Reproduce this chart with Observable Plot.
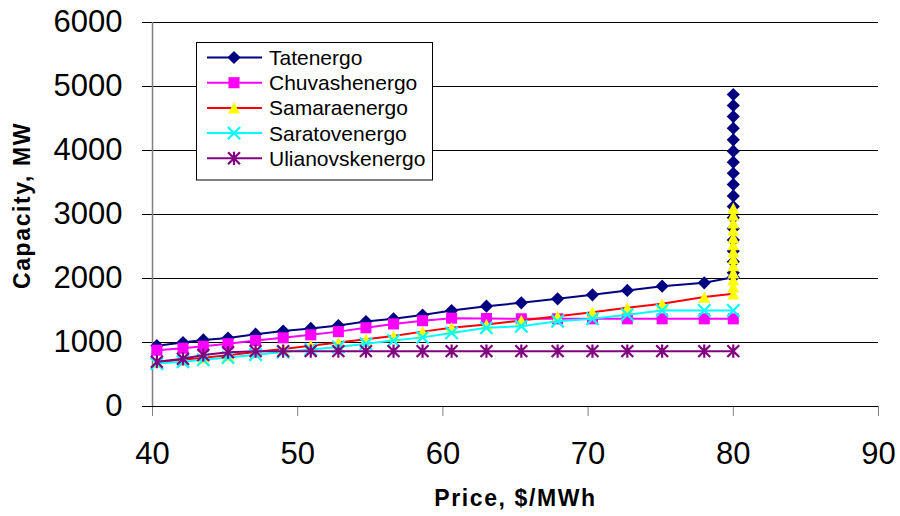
<!DOCTYPE html>
<html>
<head>
<meta charset="utf-8">
<script src="https://cdn.jsdelivr.net/npm/d3@7"></script>
<script src="https://cdn.jsdelivr.net/npm/@observablehq/plot@0.6"></script>
<style>
  body { margin: 0; background: #fff; }
  #chart { position: relative; width: 900px; height: 516px; }
  g[aria-label="x-axis tick"], g[aria-label="x-axis"] .tick line { stroke: #808080; }
</style>
</head>
<body>
<div id="chart"></div>
<script>
// ---- data ----
const price = [40.3, 42.1, 43.5, 45.2, 47.1, 49.0, 50.9, 52.8, 54.7, 56.6, 58.6, 60.6, 63.0, 65.4, 67.9, 70.3, 72.7, 75.1, 78.0, 80];
const tatenergo = [950, 1000, 1040, 1070, 1130, 1180, 1220, 1266, 1328, 1370, 1430, 1500, 1567, 1620, 1683, 1745, 1813, 1880, 1933, 2020];
const tatenergoAt80 = [2090, 2260, 2430, 2600, 2780, 2950, 3125, 3290, 3470, 3645, 3817, 3990, 4167, 4348, 4530, 4703, 4875];
const chuvashenergo = [880, 911, 942, 980, 1031, 1073, 1120, 1170, 1230, 1290, 1340, 1380, 1375, 1370, 1370, 1370, 1370, 1370, 1370, 1370];
const samaraenergo = [690, 730, 760, 800, 850, 900, 950, 1000, 1050, 1100, 1170, 1230, 1281, 1344, 1411, 1474, 1542, 1604, 1710, 1760];
const samaraenergoAt80 = [1870, 1980, 2090, 2200, 2310, 2420, 2530, 2640, 2760, 2870, 2990, 3100];
const saratovenergo = [670, 700, 730, 765, 810, 850, 890, 930, 980, 1030, 1080, 1150, 1230, 1255, 1333, 1370, 1435, 1500, 1500, 1500];
const ulianovskenergo = [700, 745, 805, 848, 865, 865, 865, 865, 865, 865, 865, 865, 865, 865, 865, 865, 865, 865, 865, 865];

const seriesNames = ["Tatenergo", "Chuvashenergo", "Samaraenergo", "Saratovenergo", "Ulianovskenergo"];
const lineColors = ["#000080", "#FF00FF", "#FF0000", "#00FFFF", "#800080"];
const markerColors = ["#000080", "#FF00FF", "#FFFF00", "#00FFFF", "#800080"];
const xTicks = [40, 50, 60, 70, 80, 90];
const yTicks = [0, 1000, 2000, 3000, 4000, 5000, 6000];
const xTitle = "Price, $/MWh";
const yTitle = "Capacity, MW";

// ---- build tables ----
function rows(ys, extraYs) {
  const r = ys.map((v, i) => ({price: price[i], mw: v}));
  (extraYs || []).forEach(v => r.push({price: price[price.length - 1], mw: v}));
  return r;
}
const seriesData = [
  rows(tatenergo, tatenergoAt80),
  rows(chuvashenergo),
  rows(samaraenergo, samaraenergoAt80),
  rows(saratovenergo),
  rows(ulianovskenergo)
];

// ---- marker shapes (Excel-like) ----
const diamond = {draw(c, size) { const s = Math.sqrt(size), h = 0.62 * s;
  c.moveTo(0, -h); c.lineTo(h, 0); c.lineTo(0, h); c.lineTo(-h, 0); c.closePath(); }};
const square = {draw(c, size) { const s = Math.sqrt(size), h = 0.52 * s;
  c.moveTo(-h, -h); c.lineTo(h, -h); c.lineTo(h, h); c.lineTo(-h, h); c.closePath(); }};
const triangle = {draw(c, size) { const s = Math.sqrt(size), w = 0.56 * s, h = 0.53 * s;
  c.moveTo(0, -h); c.lineTo(w, h); c.lineTo(-w, h); c.closePath(); }};
const times = {draw(c, size) { const s = Math.sqrt(size), h = 0.58 * s;
  c.moveTo(-h, -h); c.lineTo(h, h); c.moveTo(-h, h); c.lineTo(h, -h); }};
const star = {draw(c, size) { const s = Math.sqrt(size), a = 0.56 * s, b = 0.62 * s;
  c.moveTo(-a, -a); c.lineTo(a, a); c.moveTo(-a, a); c.lineTo(a, -a); c.moveTo(0, -b); c.lineTo(0, b); }};
const symbols = [diamond, square, triangle, times, star];
const filled = [true, true, true, false, false];
const R = 6;

const marks = [
  Plot.ruleY(yTicks, {stroke: "black", strokeWidth: 1.2}),
  Plot.ruleX([xTicks[0]], {stroke: "#808080", strokeWidth: 1.5})
];
seriesData.forEach((d, i) => {
  marks.push(Plot.line(d, {x: "price", y: "mw", stroke: lineColors[i], strokeWidth: 2}));
  marks.push(Plot.dot(d, {
    x: "price", y: "mw", r: R, symbol: symbols[i],
    fill: filled[i] ? markerColors[i] : "none",
    stroke: filled[i] ? "none" : markerColors[i],
    strokeWidth: filled[i] ? 0 : 2.2
  }));
});
marks.push(Plot.text([xTitle], {text: d => d, frameAnchor: "bottom", dy: 92, fontSize: 23, fontWeight: "bold", textAnchor: "middle", lineAnchor: "middle"}));
marks.push(Plot.text([yTitle], {text: d => d, frameAnchor: "left", dx: -130, dy: -9, rotate: -90, fontSize: 23, fontWeight: "bold", textAnchor: "middle", lineAnchor: "middle"}));

const plot = Plot.plot({
  width: 900,
  height: 516,
  marginLeft: 152,
  marginRight: 22,
  marginTop: 22,
  marginBottom: 110,
  style: {fontFamily: "'Liberation Sans', Arial, sans-serif", fontSize: "31px", background: "white", color: "black", overflow: "visible"},
  x: {domain: [40, 90], ticks: xTicks, tickSize: 10, tickPadding: 25, label: null, tickFormat: d => String(d)},
  y: {domain: [0, 6000], ticks: yTicks, tickSize: 10, tickPadding: 20, label: null, tickFormat: d => String(d)},
  marks
});
document.getElementById("chart").appendChild(plot);

const svg = d3.select(plot.tagName.toLowerCase() === "svg" ? plot : plot.querySelector("svg"));
// slightly wider letter spacing on the bold axis titles, as in the reference
svg.selectAll("text").filter(function() { return this.textContent === xTitle || this.textContent === yTitle; })
  .style("letter-spacing", "1.6px");

// ---- legend box inside the plot area ----
const lg = svg.append("g").attr("aria-label", "legend").attr("text-anchor", "start");
lg.append("rect").attr("x", 196.5).attr("y", 42.5).attr("width", 236).attr("height", 137.5)
  .attr("fill", "white").attr("stroke", "black").attr("stroke-width", 1);
seriesNames.forEach((name, i) => {
  const cy = 57.5 + i * 25.2;
  lg.append("line").attr("x1", 207).attr("x2", 262).attr("y1", cy).attr("y2", cy)
    .attr("stroke", lineColors[i]).attr("stroke-width", 2);
  lg.append("path").attr("d", d3.symbol(symbols[i], Math.PI * R * R)())
    .attr("transform", `translate(234,${cy})`)
    .attr("fill", filled[i] ? markerColors[i] : "none")
    .attr("stroke", filled[i] ? "none" : markerColors[i])
    .attr("stroke-width", 2.2);
  lg.append("text").attr("x", 269).attr("y", cy + 7.5).text(name)
    .attr("text-anchor", "start")
    .style("font-size", "21px").attr("fill", "black");
});
</script>
</body>
</html>
